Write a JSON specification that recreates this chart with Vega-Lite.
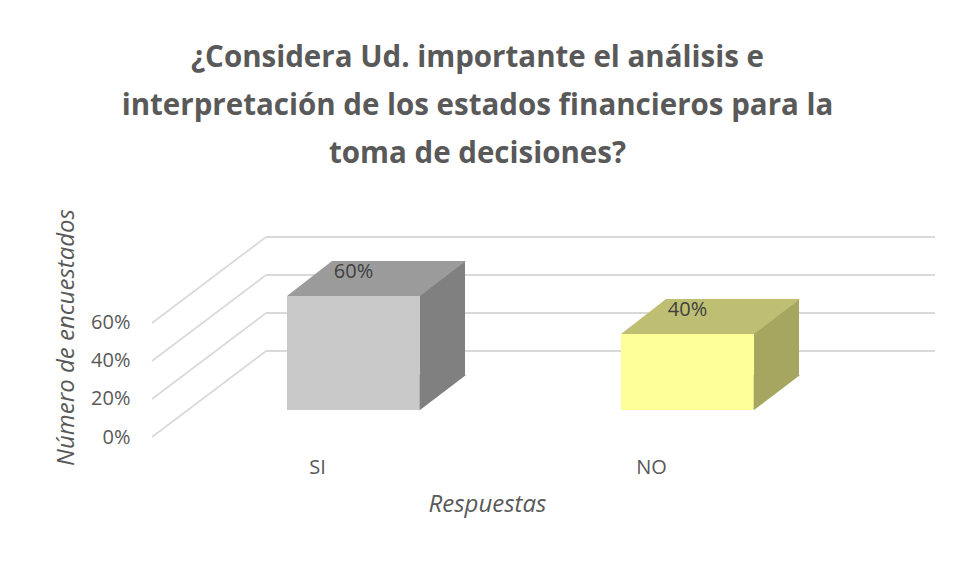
{
  "$schema": "https://vega.github.io/schema/vega-lite/v6.json",
  "width": 783,
  "height": 200,
  "autosize": {"type": "none"},
  "padding": {"left": 152, "top": 237, "right": 20, "bottom": 143},
  "background": "white",
  "config": {
    "view": {"stroke": null},
    "font": "Open Sans",
    "axisY": {"grid": false, "domain": false, "ticks": false, "tickSize": 0, "labelPadding": 22, "labelFont": "Open Sans", "labelFontSize": 20, "labelColor": "#595959", "titleFont": "Open Sans", "titleFontSize": 24, "titleFontStyle": "italic", "titleFontWeight": "normal", "titleColor": "#595959", "titlePadding": 12},
    "axisX": {"grid": false, "domain": false, "ticks": false, "tickSize": 0, "labelAngle": 0, "labelPadding": 20, "labelFont": "Open Sans", "labelFontSize": 20, "labelColor": "#595959", "titleFont": "Open Sans", "titleFontSize": 24, "titleFontStyle": "italic", "titleFontWeight": "normal", "titleColor": "#595959", "titlePadding": 15, "titleX": 335, "titleAnchor": "middle"}
  },
  "title": {
    "text": ["¿Considera Ud. importante el análisis e", "interpretación de los estados financieros para la", "toma de decisiones?"],
    "font": "Open Sans",
    "fontSize": 29.5,
    "fontWeight": "bold",
    "color": "#595959",
    "lineHeight": 48,
    "anchor": "middle",
    "frame": "group",
    "dx": -66,
    "offset": 39
  },
  "datasets": {
    "respuestas": [
      {"Respuesta": "SI", "Porcentaje": 0.6},
      {"Respuesta": "NO", "Porcentaje": 0.4}
    ],
    "grid": [
      {"v": 0},
      {"v": 0.2},
      {"v": 0.4},
      {"v": 0.6}
    ]
  },
  "layer": [
    {
      "data": {"name": "grid"},
      "encoding": {
        "y": {"field": "v", "type": "quantitative", "scale": {"domain": [0, 1.0526], "nice": false}, "axis": {"values": [0, 0.2, 0.4, 0.6], "format": ".0%"}, "title": "Número de encuestados"}
      },
      "layer": [
        {
          "mark": {"type": "rule", "color": "#d9d9d9", "strokeWidth": 1.8, "x2Offset": 114, "y2Offset": -86},
          "encoding": {
            "x": {"datum": 0, "type": "quantitative", "scale": {"domain": [0, 1]}, "axis": null},
            "x2": {"datum": 0},
            "y2": {"field": "v"}
          }
        },
        {
          "mark": {"type": "rule", "color": "#d9d9d9", "strokeWidth": 1.8, "xOffset": 114, "x2Offset": 0, "yOffset": -86},
          "encoding": {
            "x": {"datum": 0, "type": "quantitative", "scale": {"domain": [0, 1]}, "axis": null},
            "x2": {"datum": 1}
          }
        }
      ]
    },
    {
      "data": {"name": "respuestas"},
      "encoding": {
        "x": {"field": "Respuesta", "type": "nominal", "sort": ["SI", "NO"], "scale": {"paddingInner": 0.6018, "paddingOuter": 0.473, "align": 0.3133}, "title": "Respuestas"},
        "y": {"field": "Porcentaje", "type": "quantitative", "scale": {"domain": [0, 1.0526], "nice": false}, "axis": {"values": [0, 0.2, 0.4, 0.6], "format": ".0%"}, "title": "Número de encuestados"}
      },
      "layer": [
        {
          "mark": {"type": "bar", "xOffset": 81, "x2Offset": 81, "yOffset": -62, "y2Offset": -62},
          "encoding": {
            "fill": {"condition": {"test": "datum.Respuesta === 'SI'", "value": "#808080"}, "value": "#a6a661"}
          }
        },
        {
          "mark": {"type": "point", "filled": true, "opacity": 1, "strokeWidth": 0, "size": 17689, "shape": "M -1 0 L 1 0 L 1.692 -0.526 L -0.323 -0.526 Z", "xOffset": 36, "yOffset": -27},
          "encoding": {
            "fill": {"condition": {"test": "datum.Respuesta === 'SI'", "value": "#9b9b9b"}, "value": "#bfbf74"}
          }
        },
        {
          "mark": {"type": "bar", "xOffset": 36, "x2Offset": 36, "yOffset": -27, "y2Offset": -27},
          "encoding": {
            "fill": {"condition": {"test": "datum.Respuesta === 'SI'", "value": "#c9c9c9"}, "value": "#ffff99"}
          }
        },
        {
          "mark": {"type": "point", "filled": true, "opacity": 1, "strokeWidth": 0, "size": 17689, "shape": "M 0.995 0.005 L 0.995 -0.526 L 1.692 -0.526 Z", "xOffset": 36, "yOffset": -27},
          "encoding": {
            "y": {"datum": 0, "type": "quantitative", "title": "Número de encuestados"},
            "fill": {"condition": {"test": "datum.Respuesta === 'SI'", "value": "#808080"}, "value": "#a6a661"}
          }
        },
        {
          "mark": {"type": "text", "font": "Open Sans", "fontSize": 20, "color": "#404040", "xOffset": 36, "yOffset": -51},
          "encoding": {
            "text": {"field": "Porcentaje", "type": "quantitative", "format": ".0%"}
          }
        }
      ]
    }
  ],
  "resolve": {"scale": {"x": "independent"}}
}
